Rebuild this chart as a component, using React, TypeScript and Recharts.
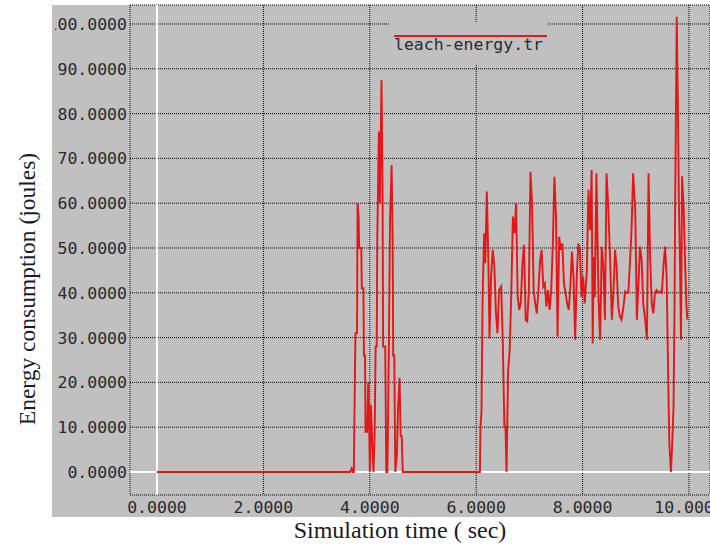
import React from 'react';
import { LineChart, Line, XAxis, YAxis, CartesianGrid, ReferenceLine, Legend } from 'recharts';

const seriesName = 'leach-energy.tr';
const xTicks = [0, 2, 4, 6, 8, 10];
const yTicks = [0, 10, 20, 30, 40, 50, 60, 70, 80, 90, 100];

const timeSec = [
  0, 3.63, 3.66, 3.68, 3.70, 3.71, 3.73, 3.76, 3.77, 3.79, 3.80, 3.84, 3.85, 3.88, 3.89, 3.91, 3.92, 3.95, 3.97, 3.99,
  4.00, 4.02, 4.05, 4.07, 4.09, 4.11, 4.13, 4.14, 4.17, 4.19, 4.22, 4.24, 4.25, 4.29, 4.31, 4.33, 4.34, 4.36, 4.38, 4.41,
  4.43, 4.44, 4.46, 4.48, 4.51, 4.53, 4.56, 4.58, 4.60, 4.62,
  6.05, 6.07, 6.08, 6.10, 6.12, 6.15, 6.17, 6.20, 6.23, 6.25, 6.28, 6.31, 6.34, 6.37, 6.40, 6.43, 6.47, 6.50, 6.53, 6.55,
  6.57, 6.60, 6.63, 6.66, 6.69, 6.72, 6.75, 6.78, 6.81, 6.84, 6.87, 6.90, 6.93, 6.96, 6.99, 7.02, 7.05, 7.08, 7.11, 7.14,
  7.17, 7.20, 7.23, 7.26, 7.29, 7.32, 7.35, 7.38, 7.41, 7.44, 7.47, 7.50, 7.53, 7.56, 7.59, 7.62, 7.65, 7.68, 7.71, 7.74,
  7.77, 7.80, 7.83, 7.86, 7.89, 7.92, 7.95, 7.98, 8.01, 8.04, 8.08, 8.11, 8.14, 8.17, 8.19, 8.21, 8.23, 8.26, 8.30, 8.33,
  8.36, 8.39, 8.42, 8.45, 8.48, 8.52, 8.55, 8.58, 8.61, 8.64, 8.67, 8.70, 8.73, 8.77, 8.80, 8.83, 8.86, 8.89, 8.92, 8.95,
  8.99, 9.02, 9.05, 9.08, 9.11, 9.14, 9.17, 9.21, 9.24, 9.27, 9.30, 9.33, 9.36, 9.39, 9.42, 9.46, 9.49, 9.52, 9.55, 9.58,
  9.61, 9.63, 9.66, 9.68, 9.71, 9.73, 9.74, 9.77, 9.79, 9.81, 9.83, 9.85, 9.87, 9.90, 9.92, 9.95, 9.97,
];

const energyJoules = [
  0, 0, 0.8, 0, 0, 11, 31, 31, 60, 57, 50, 50, 41, 41, 26, 26, 9, 9, 20, 9,
  0, 15, 5, 0, 8, 28, 28, 51, 76, 60, 87.5, 63, 28, 28, 0, 0, 8, 30, 56, 68.5,
  51.6, 26, 26, 0, 4, 14, 21, 8, 8, 0,
  0, 0, 10, 13.5, 38.4, 53.3, 46.6, 62.6, 46.6, 29.8, 43.6, 49.6, 46.2, 35.8, 31, 40.6, 41.4, 29.1, 10.1, 10.1,
  0, 22.4, 27.2, 39.9, 57, 53.3, 60, 39.1, 36.2, 38, 46.6, 50.7, 33.9, 33.6, 40.6, 67, 60, 40.6, 37.6, 35.4,
  40.6, 47, 49.6, 41.4, 42.1, 36.9, 40.6, 36.2, 40.6, 50.7, 65.9, 57, 30.2, 52.5, 49.6, 51, 42.1, 39.9, 37.6, 36.2,
  41.4, 49.2, 43.6, 29.5, 43.6, 51, 49.6, 39, 43.6, 37.6, 45, 63, 54, 67.4, 28.7, 48, 39, 66.7, 38.4, 29.5,
  50.3, 45.8, 34, 66.7, 60, 46.6, 34, 39.9, 49.6, 45.8, 37, 34.7, 34, 37, 40.3, 40, 40, 46.6, 54, 66.7,
  58.5, 34, 42, 50.3, 47.3, 37.6, 34.7, 29.5, 66.7, 48, 37.6, 35.4, 40, 40.6, 40, 40.3, 40, 45.8, 50.3, 43.6,
  20.5, 6.4, 0, 5, 14.6, 39, 60, 101.6, 83.4, 60, 47.3, 29.5, 66, 59, 49.6, 37.6, 34,
];

const data = timeSec.map((t, i) => ({ t, energy: energyJoules[i] }));

const MONO = '"DejaVu Sans Mono", "Liberation Mono", monospace';
const SERIF = '"Liberation Serif", "DejaVu Serif", serif';
const GRAY = '#c0c0c0';

const fmt = (v: number) => v.toFixed(4);

const YTick = (props: any) => {
  const { x, y, payload, index } = props;
  const id = `ytick-clip-${index}`;
  return (
    <g>
      <defs>
        <clipPath id={id}>
          <rect x={55} y={0} width={655} height={554} />
        </clipPath>
      </defs>
      <text x={x} y={y} dy={6} textAnchor="end" fontFamily={MONO} fontSize={16.5} fill="#2a2a2a" clipPath={`url(#${id})`}>
        {fmt(payload.value)}
      </text>
    </g>
  );
};

const XTick = (props: any) => {
  const { x, y, payload } = props;
  return (
    <text x={x} y={y + 18} textAnchor="middle" fontFamily={MONO} fontSize={16.5} fill="#2a2a2a">
      {fmt(payload.value)}
    </text>
  );
};

const YTitle = () => (
  <text x={35} y={289} transform="rotate(-90 35 289)" textAnchor="middle" fontFamily={SERIF} fontSize={23.5} fill="#1a1a2a">
    Energy consumption (joules)
  </text>
);

const XTitle = () => (
  <text x={400} y={538} textAnchor="middle" fontFamily={SERIF} fontSize={24} fill="#1a1a2a">
    Simulation time ( sec)
  </text>
);

const LegendBox = () => (
  <svg width={157} height={42} style={{ display: 'block' }}>
    <rect x={0} y={0} width={157} height={42} fill={GRAY} />
    <line x1={4} x2={157} y1={14} y2={14} stroke="#e81818" strokeWidth={2} />
    <text x={4} y={28} fontFamily={MONO} fontSize={16.5} fill="#2a2a2a">
      {seriesName}
    </text>
  </svg>
);

export default function App() {
  return (
    <div style={{ position: 'absolute', left: 0, top: 0, width: 710, height: 554, background: '#fff' }}>
      <div style={{ position: 'absolute', left: 52, top: 5, width: 658, height: 512, background: GRAY }} />
      <div style={{ position: 'absolute', left: 0, top: 0 }}>
        <LineChart width={710} height={554} data={data} margin={{ top: 5, right: 0, bottom: 29, left: 0 }}>
          <CartesianGrid stroke="#000" strokeDasharray="1 1" />
          <XAxis
            dataKey="t"
            type="number"
            domain={[-0.5075, 10.395]}
            ticks={xTicks}
            allowDataOverflow
            axisLine={false}
            tickLine={false}
            tickSize={0}
            tickMargin={0}
            height={30}
            tick={<XTick />}
            label={<XTitle />}
          />
          <YAxis
            type="number"
            domain={[-5.134, 104.24]}
            ticks={yTicks}
            allowDataOverflow
            axisLine={false}
            tickLine={false}
            tickSize={0}
            tickMargin={3}
            width={130}
            tick={<YTick />}
            label={<YTitle />}
          />
          <ReferenceLine x={0} stroke="#fff" strokeWidth={2} />
          <ReferenceLine y={0} stroke="#fff" strokeWidth={2} />
          <Legend
            layout="horizontal"
            verticalAlign="middle"
            align="center"
            content={<LegendBox />}
            wrapperStyle={{ left: 390, top: 22, width: 157, height: 42 }}
          />
          <Line
            type="linear"
            dataKey="energy"
            name={seriesName}
            stroke="#e41616"
            strokeWidth={1.9}
            dot={false}
            activeDot={false}
            isAnimationActive={false}
          />
        </LineChart>
      </div>
    </div>
  );
}
